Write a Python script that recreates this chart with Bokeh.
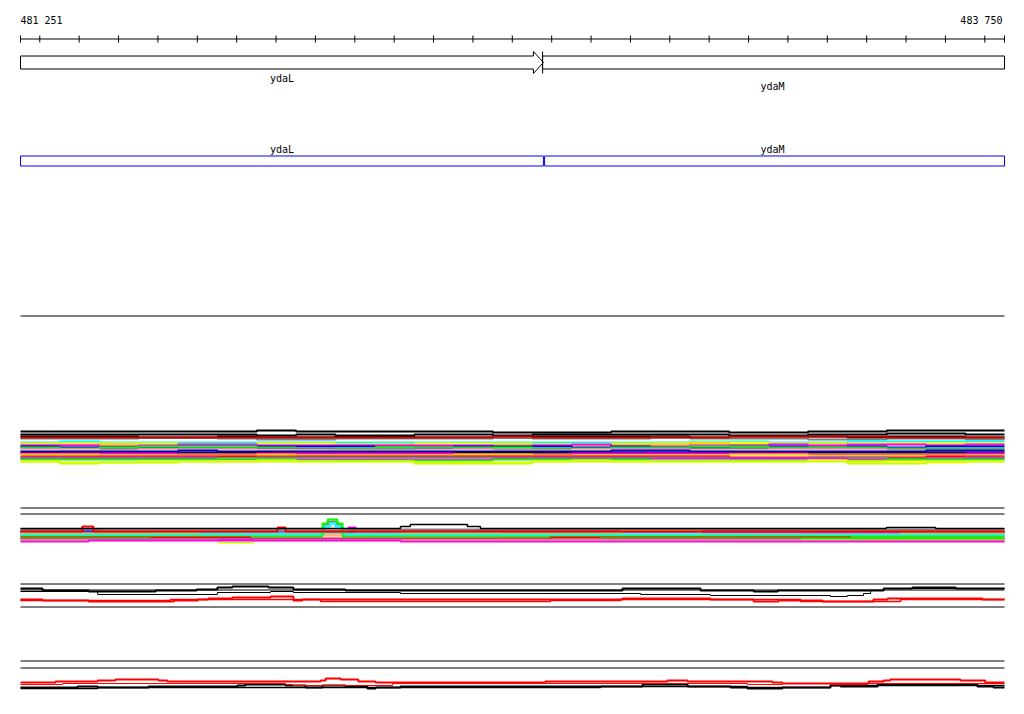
from bokeh.plotting import figure
from bokeh.models import Range1d
from bokeh.embed import file_html
from bokeh.resources import INLINE
from bokeh.core.properties import value

# ---------------- data ----------------
seq_start = 481251
seq_end = 483750
seq_labels = ["481 251", "483 750"]
tick_step = 100

gene_names = ["ydaL", "ydaM"]
gene_start = [481100, 482582]
gene_end = [482579, 483900]

# track 1: window edges (bp) and stepped levels (row position) per series
win_edges = [481251 + 100 * k for k in range(25)] + [483750]
t1_colors = ["#000000", "#000000", "#000000", "#808080", "#c80000", "#00ffff", "#ffff00",
             "#ffc800", "#ff00ff", "#0000ff", "#00ff00", "#808080", "#ffafaf", "#0000ff",
             "#000000", "#ff00ff", "#ffc800", "#ff0000", "#808080", "#ff00ff", "#00ff00",
             "#ffff00", "#c8ff00"]
t1_levels = [
    [431, 431, 431, 431, 431, 431, 430, 431, 431, 431, 431, 431, 432, 432, 432, 431, 431, 431, 432, 432, 431, 431, 430, 430, 430],
    [434, 434, 434, 434, 434, 434, 435, 434, 435, 435, 434, 434, 435, 434, 434, 434, 434, 434, 435, 435, 434, 434, 433, 433, 434],
    [436, 436, 436, 437, 437, 436, 437, 437, 436, 436, 437, 437, 437, 436, 436, 436, 436, 437, 436, 436, 436, 437, 436, 436, 437],
    [438, 438, 438, 437, 437, 438, 439, 439, 438, 438, 438, 438, 437, 438, 438, 438, 437, 438, 438, 438, 439, 439, 438, 438, 439],
    [437, 437, 437, 437, 437, 437, 437, 437, 437, 437, 437, 437, 436, 437, 437, 437, 437, 437, 436, 436, 436, 436, 437, 437, 437],
    [442, 441, 442, 442, 442, 442, 442, 442, 442, 442, 442, 442, 442, 442, 442, 442, 442, 441, 441, 442, 442, 441, 441, 441, 441],
    [443, 443, 443, 443, 444, 444, 443, 443, 444, 444, 443, 443, 443, 444, 444, 443, 443, 442, 442, 443, 443, 443, 443, 443, 443],
    [444, 444, 444, 445, 444, 444, 445, 445, 444, 444, 445, 445, 444, 444, 445, 444, 444, 443, 444, 444, 444, 445, 444, 444, 445],
    [445, 445, 446, 445, 444, 444, 445, 445, 445, 445, 445, 445, 446, 445, 444, 446, 446, 445, 445, 444, 445, 444, 444, 445, 444],
    [446, 447, 447, 447, 446, 446, 446, 446, 446, 447, 447, 446, 446, 446, 447, 446, 447, 447, 446, 446, 447, 446, 447, 446, 446],
    [447, 448, 447, 446, 446, 446, 447, 448, 448, 447, 447, 447, 447, 448, 448, 447, 447, 446, 446, 447, 447, 447, 448, 448, 448],
    [448, 449, 449, 448, 448, 448, 448, 448, 449, 449, 448, 448, 449, 449, 449, 448, 448, 448, 448, 448, 448, 448, 449, 449, 449],
    [449, 449, 450, 449, 449, 449, 450, 450, 450, 450, 450, 449, 450, 450, 449, 449, 449, 450, 450, 449, 449, 449, 450, 450, 450],
    [451, 451, 451, 451, 450, 451, 451, 451, 451, 451, 451, 451, 451, 451, 451, 450, 450, 451, 451, 451, 451, 451, 451, 450, 450],
    [452, 452, 452, 452, 452, 452, 452, 452, 452, 452, 452, 452, 452, 452, 452, 452, 452, 452, 452, 452, 452, 452, 452, 452, 452],
    [453, 453, 453, 453, 454, 454, 453, 453, 453, 453, 453, 454, 454, 454, 453, 453, 453, 453, 453, 453, 454, 454, 454, 454, 453],
    [454, 454, 455, 455, 455, 455, 454, 455, 455, 455, 455, 454, 454, 455, 455, 455, 455, 455, 454, 454, 455, 455, 455, 455, 455],
    [456, 456, 456, 456, 456, 456, 456, 456, 456, 456, 456, 456, 456, 456, 456, 456, 456, 456, 457, 457, 457, 457, 457, 456, 456],
    [457, 457, 457, 457, 457, 458, 457, 457, 457, 457, 457, 457, 457, 457, 457, 457, 457, 457, 458, 458, 457, 457, 458, 458, 457],
    [458, 458, 458, 458, 458, 458, 459, 459, 459, 459, 459, 459, 458, 458, 458, 458, 458, 458, 458, 458, 458, 459, 459, 458, 458],
    [459, 459, 459, 459, 459, 458, 459, 460, 460, 460, 460, 460, 459, 459, 459, 459, 460, 460, 460, 460, 460, 460, 459, 459, 459],
    [461, 462, 462, 461, 461, 461, 460, 461, 461, 461, 462, 462, 462, 461, 460, 461, 461, 461, 461, 461, 460, 461, 461, 462, 461],
    [461, 463, 462, 462, 461, 461, 461, 461, 461, 461, 463, 463, 463, 461, 461, 461, 461, 461, 461, 461, 461, 463, 463, 461, 461],
]

# track 2 series: colour, breakpoints (bp), levels
t2_colors = ["#808080", "#0000ff", "#ff00ff", "#00ffff", "#ffc800", "#ffafaf", "#00ffff", "#00ff00",
             "#ff0000", "#00ff00", "#ff00ff", "#c8ff00", "#ff00ff", "#808080", "#ff0000", "#000000"]
t2_breaks = [
    [481251, 482023, 482033, 482053, 482066, 483750],
    [481251, 481708, 482216, 483232, 483750],
    [481251, 482084, 482102, 482724, 482978, 483750],
    [481251, 481581, 482470, 483105, 483750],
    [481251, 481708, 482216, 482775, 482978, 483486, 483750],
    [481251, 482470, 483105, 483750],
    [481251, 482021, 482038, 482051, 482069, 483750],
    [481251, 482018, 482031, 482056, 482069, 483750],
    [481251, 481835, 482597, 483359, 483750],
    [481251, 481581, 482724, 483750],
    [481251, 483232, 483750],
    [481251, 481754, 481843, 483750],
    [481251, 481424, 482216, 483232, 483750],
    [481251, 481454, 482089, 483750],
    [481251, 481408, 481436, 481904, 481924, 483750],
    [481251, 482216, 482241, 482386, 482419, 483450, 483575, 483750],
]
t2_levels = [
    [530, 524, 521, 524, 530],
    [531, 532, 531, 532],
    [532, 527, 532, 531, 532],
    [534, 533, 534, 535],
    [533, 534, 533, 530, 534, 533],
    [535, 536, 535],
    [534, 526, 523, 526, 534],
    [536, 523, 519, 523, 536],
    [537, 538, 537, 538],
    [538, 539, 538],
    [539, 540],
    [540, 542, 540],
    [541, 540, 541, 541],
    [529, 530, 529],
    [531, 526, 531, 527, 531],
    [528, 526, 524, 526, 528, 527, 528],
]

# track 3
t3_colors = ["#000000", "#000000", "#ff0000", "#ff0000"]
t3_breaks = [
    [481251, 481307, 481424, 481594, 481698, 481751, 481789, 481881, 481944, 482076,
     482780, 482978, 483113, 483174, 483443, 483516, 483626, 483750],
    [481251, 481447, 481751, 481886, 481944, 482216, 482826, 483003, 483308, 483351,
     483392, 483410, 483443, 483750],
    [481251, 481307, 481424, 481640, 481701, 481728, 481789, 481886, 481944, 481967,
     482780, 483003, 483113, 483176, 483288, 483417, 483453, 483694, 483750],
    [481251, 481632, 482013, 482597, 482775, 483232, 483486, 483750],
]
t3_levels = [
    [588, 590, 591, 590, 589, 587, 586, 587, 589, 590, 588, 590, 591, 590, 588, 587, 588],
    [591, 594, 592, 591, 592, 593, 594, 595, 596, 595, 593, 590, 588],
    [599, 600, 601, 600, 599, 598, 597, 596, 600, 599, 598, 599, 601, 600, 601, 599, 598, 599],
    [600, 599, 601, 600, 599, 601, 599],
]

# track 4
t4_colors = ["#000000", "#000000", "#ff0000", "#ff0000"]
t4_breaks = [
    [481251, 481373, 481396, 481447, 481576, 481754, 481802, 481822, 481924, 481975,
     482018, 482076, 482132, 482153, 482216, 482724, 482831, 482945, 483054, 483097,
     483186, 483308, 483334, 483428, 483681, 483722, 483750],
    [481251, 481447, 481576, 482216, 482724, 483097, 483308, 483750],
    [481251, 481358, 481924, 481942, 482196, 483097, 483186, 483308, 483402, 483750],
    [481251, 481340, 481447, 481492, 481601, 481624, 482013, 482026, 482064, 482109,
     482153, 482584, 482686, 482894, 482945, 483161, 483186, 483405, 483443, 483460,
     483638, 483701, 483750],
]
t4_levels = [
    [687, 687, 686, 687, 686, 686, 685, 684, 685, 687, 685, 686, 688, 687, 686, 686,
     684, 686, 687, 688, 687, 685, 686, 684, 686, 687],
    [688, 687, 687, 687, 686, 687, 685],
    [684, 683, 684, 685, 683, 684, 683, 684, 683],
    [682, 681, 680, 679, 680, 681, 680, 678, 679, 681, 682, 681, 681, 680, 681, 682,
     683, 681, 680, 679, 680, 682],
]

# ---------------- layout ----------------
W, H = 1016, 706
BP_PER_PX = (seq_end - seq_start) / 984.0
x0 = seq_start - 20 * BP_PER_PX
FONT = value("DejaVu Sans Mono")

p = figure(width=W, height=H, output_backend="svg", toolbar_location=None,
           x_range=Range1d(x0, x0 + W * BP_PER_PX), y_range=Range1d(H, 0),
           min_border=0, outline_line_color=None)
p.axis.visible = False
p.grid.visible = False
p.background_fill_color = "white"


def clip(v):
    return min(max(v, seq_start), seq_end)


def step_xy(breaks, levels):
    xs, ys = [], []
    for i, lv in enumerate(levels):
        xs += [breaks[i], breaks[i + 1]]
        ys += [lv, lv]
    return xs, ys


# ruler
p.segment(x0=[seq_start], x1=[seq_end], y0=[38.5], y1=[38.5], line_color="black", line_width=1)
ticks = [seq_start] + list(range(481300, seq_end, tick_step)) + [seq_end]
p.segment(x0=ticks, x1=ticks, y0=[35] * len(ticks), y1=[42] * len(ticks), line_color="black", line_width=1)
p.text(x=[seq_start], y=[19.5], text=[seq_labels[0]], text_font=FONT, text_font_size="10px",
       text_align="left", text_baseline="middle", text_color="black")
p.text(x=[seq_end], y=[19.5], text=[seq_labels[1]], text_font=FONT, text_font_size="10px",
       text_align="right", text_baseline="middle", text_color="black", x_offset=-2)

# top gene track (arrow for ydaL, box for ydaM)
s0, e0 = clip(gene_start[0]), clip(gene_end[0])
head = 10 * BP_PER_PX
p.patch(x=[s0, e0 - head, e0 - head, e0, e0 - head, e0 - head, s0],
        y=[55.5, 55.5, 51, 62, 73, 68.5, 68.5],
        fill_color="white", line_color="black", line_width=1)
s1, e1 = clip(gene_start[1]), clip(gene_end[1])
m1 = s1 - 2 * BP_PER_PX
p.quad(left=[m1], right=[e1], top=[55.5], bottom=[68.5],
       fill_color=None, line_color="black", line_width=1)
p.segment(x0=[m1], x1=[m1], y0=[51], y1=[73], line_color="black", line_width=1)
p.text(x=[(s0 + e0) / 2], y=[77.5], text=[gene_names[0]], text_font=FONT, text_font_size="10px",
       text_align="center", text_baseline="middle", text_color="black")
p.text(x=[(s1 + e1) / 2], y=[85.5], text=[gene_names[1]], text_font=FONT, text_font_size="10px",
       text_align="center", text_baseline="middle", text_color="black", x_offset=-2)

# blue gene track
p.quad(left=[clip(s) for s in gene_start], right=[clip(e) for e in gene_end],
       top=[155.5] * 2, bottom=[165.5] * 2, fill_color=None, line_color="#0000ff", line_width=1)
p.text(x=[(clip(s) + clip(e)) / 2 for s, e in zip(gene_start, gene_end)], y=[149, 149],
       text=gene_names, text_font=FONT, text_font_size="10px",
       text_align="center", text_baseline="middle", text_color="black", x_offset=[0, -2])

# separator lines
seps = [315.5, 507.5, 513.5, 583.5, 589.5, 606.5, 660.5, 667.5]
p.segment(x0=[seq_start] * len(seps), x1=[seq_end] * len(seps), y0=seps, y1=seps,
          line_color="black", line_width=1)

# track 1
for c, lv in zip(t1_colors, t1_levels):
    xs, ys = step_xy(win_edges, lv)
    p.line(xs, ys, line_color=c, line_width=2)

# track 2
for c, b, lv in zip(t2_colors, t2_breaks, t2_levels):
    xs, ys = step_xy(b, lv)
    p.line(xs, ys, line_color=c, line_width=2 if c != "#000000" else 1.5)

# track 3
for i, (c, b, lv) in enumerate(zip(t3_colors, t3_breaks, t3_levels)):
    xs, ys = step_xy(b, lv)
    p.line(xs, ys, line_color=c, line_width=[2, 1, 2, 1.5][i])

# track 4
for i, (c, b, lv) in enumerate(zip(t4_colors, t4_breaks, t4_levels)):
    xs, ys = step_xy(b, lv)
    p.line(xs, ys, line_color=c, line_width=[2, 1.5, 1, 2][i])

open("out.html", "w").write(file_html(p, INLINE))
